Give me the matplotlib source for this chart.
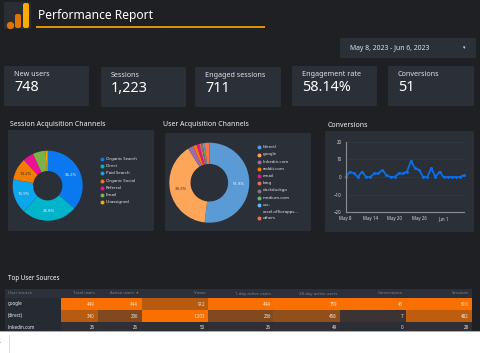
import matplotlib
matplotlib.use("Agg")
import matplotlib.pyplot as plt
import matplotlib.colors as mcolors
from matplotlib.patches import FancyBboxPatch, Rectangle

plt.rcParams["font.family"] = ["Noto Sans", "DejaVu Sans"]

W, H = 480, 353
BG = "#1f2023"
CARD = "#2b2f38"
TEXT = "#e4e5e7"
ORANGE = "#f97000"

card_labels = ["New users", "Sessions", "Engaged sessions", "Engagement rate", "Conversions"]
card_values = ["748", "1,223", "711", "58.14%", "51"]

session_channels = ["Organic Search", "Direct", "Paid Search", "Organic Social", "Referral", "Email", "Unassigned"]
session_shares = [36.2, 25.8, 15.9, 10.2, 5.0, 5.9, 1.0]
session_labels = ["36.2%", "25.8%", "15.9%", "10.2%", "", "", ""]
session_colors = ["#0a79f0", "#00b4cc", "#0ba6ee", "#f47c00", "#ec1294", "#7cb24a", "#f9a800"]

user_sources = ["(direct)", "google", "linkedin.com", "reddit.com", "email", "bing", "duckduckgo",
                "medium.com", "cac-\nexcel.officeapps...", "others"]
user_shares = [51.8, 39.3, 2.2, 1.4, 1.2, 0.7, 0.6, 0.5, 0.3, 1.9]
user_labels = ["51.8%", "39.3%", "", "", "", "", "", "", "", ""]
user_colors = ["#5b9bd5", "#fda65a", "#9c6bb0", "#f57c00", "#ec1294", "#e0705a", "#7a7a7a",
               "#66bb6a", "#64b5f6", "#ff7043"]

conversions = [0, 3, 2, 0, 3, 0, 0, 2, 2, 4, 1, 0, 0, 2, 2, 3, 9, 5, 4, 0, 0, 5, 0, 3, 0, 0, 0, 0, 0, 1]
conv_tick_idx = [0, 6, 12, 18, 24]
conv_tick_labels = ["May 8", "May 14", "May 20", "May 26", "Jun 1"]
conv_yticks = [-20, -10, 0, 10, 20]

table_columns = ["Total users", "Active users  ▾", "Views", "1-day active users",
                 "28-day active users", "Conversions", "Sessions"]
table_sources = ["google", "(direct)", "linkedin.com"]
table_google = [449, 444, 912, 444, 759, 43, 610]
table_direct = [340, 236, 1203, 236, 458, 7, 482]
table_linkedin = [26, 26, 50, 26, 49, 0, 28]

fig = plt.figure(figsize=(W / 100, H / 100), dpi=100, facecolor=BG)
bg = fig.add_axes([0, 0, 1, 1])
bg.set_xlim(0, W)
bg.set_ylim(H, 0)
bg.axis("off")


def inset(x0, y0, x1, y1):
    # axes placed in pixel coordinates measured from the top left
    return fig.add_axes([x0 / W, 1 - y1 / H, (x1 - x0) / W, (y1 - y0) / H], facecolor="none")


def panel(x0, y0, x1, y1, color=CARD):
    bg.add_patch(FancyBboxPatch((x0 + 1, y0 + 1), x1 - x0 - 2, y1 - y0 - 2,
                                boxstyle="round,pad=1,rounding_size=1.5", fc=color, ec="none"))


# header
panel(4, 2, 31, 29, "#2a2d33")
bg.add_patch(FancyBboxPatch((16, 15), 4, 12, boxstyle="round,pad=1,rounding_size=2", fc="#e37400", ec="none"))
bg.add_patch(FancyBboxPatch((24, 4), 4, 23, boxstyle="round,pad=1,rounding_size=2", fc="#f9ab00", ec="none"))
bg.scatter([10], [25], s=28, c="#e37400", linewidths=0)
bg.text(38, 15.5, "Performance Report", color="white", fontsize=8.7, fontweight="bold", va="center")
bg.plot([36, 265], [26.5, 26.5], color="#f0a000", lw=1.3, solid_capstyle="butt")

# date picker
panel(340, 38, 476, 58)
bg.text(350, 48, "May 8, 2023 - Jun 6, 2023", color="#e0e2e6", fontsize=4.9, va="center")
bg.text(464, 48, "▾", color="#e0e2e6", fontsize=3.5, va="center", ha="center")

# score cards
card_x = [(4, 89, 66), (101, 186, 67), (195, 281, 67), (292, 377, 66), (388, 474, 66)]
for (x0, x1, y0), label, value in zip(card_x, card_labels, card_values):
    panel(x0, y0, x1, y0 + 40)
    bg.text(x0 + 10, y0 + 8.5, label, color="#e0e1e4", fontsize=5.2, va="center")
    bg.text(x0 + 10, y0 + 21.5, value, color="white", fontsize=10.4, va="center")

# section titles and chart panels
bg.text(10, 125, "Session Acquisition Channels", color="#f0f0f2", fontsize=5.0, va="center")
bg.text(163, 125, "User Acquisition Channels", color="#f0f0f2", fontsize=5.0, va="center")
bg.text(328, 125.5, "Conversions", color="#f0f0f2", fontsize=5.0, va="center")
panel(8, 130, 154, 231)
panel(165, 133, 311, 231)
panel(325, 131, 474, 232)


def donut(cx, cy, r, shares, colors, labels, hole, dist):
    ax = inset(cx - r, cy - r, cx + r, cy + r)
    wedges, texts = ax.pie(shares, colors=colors, startangle=90, counterclock=False, radius=1,
                           labels=labels, labeldistance=dist,
                           wedgeprops=dict(width=1 - hole, linewidth=0),
                           textprops=dict(fontsize=3.1, color="#f0f0f0", ha="center", va="center"))
    ax.set_xlim(-1, 1)
    ax.set_ylim(-1, 1)
    ax.set_aspect("equal")
    ax.axis("off")
    for t, c in zip(texts, colors):
        if c in ("#f47c00", "#fda65a"):
            t.set_color("#333333")


donut(47.7, 185.7, 35, session_shares, session_colors, session_labels, 0.42, 0.72)
donut(209.3, 182.7, 40, user_shares, user_colors, user_labels, 0.47, 0.735)

# legends
for i, (name, color) in enumerate(zip(session_channels, session_colors)):
    y = 159 + i * 7.2
    bg.scatter([102], [y], s=8, c=color, linewidths=0)
    bg.text(105.5, y, name, color="#e8e9ec", fontsize=3.1, va="center")

y_legend = [147.3, 154.5, 161.7, 169, 176.2, 183.3, 190.5, 197.8, 205, 218]
for name, color, y in zip(user_sources, user_colors, y_legend):
    bg.scatter([259], [y], s=8, c=color, linewidths=0)
    if "\n" in name:
        first, second = name.split("\n")
        bg.text(263, y - 0.5, first, color="#e8e9ec", fontsize=3.1, va="center")
        bg.text(263, y + 6.5, second, color="#e8e9ec", fontsize=3.1, va="center")
    else:
        bg.text(263, y, name, color="#e8e9ec", fontsize=3.1, va="center")

# conversions line chart
ax = inset(345.7, 141.7, 464, 212.3)
ax.plot(range(len(conversions)), conversions, color="#0a6fe8", lw=1.3, marker="o", ms=2.1,
        mew=0, clip_on=False)
ax.set_xlim(0, len(conversions) - 1)
ax.set_ylim(-20, 20)
ax.set_yticks(conv_yticks)
ax.set_xticks(conv_tick_idx)
ax.set_xticklabels(conv_tick_labels)
ax.tick_params(colors="#d8dade", labelsize=3.2, length=0, pad=3)
ax.grid(axis="y", color="#383c45", lw=0.4)
ax.set_axisbelow(True)
for side in ("top", "right"):
    ax.spines[side].set_visible(False)
for side in ("left", "bottom"):
    ax.spines[side].set_color("#8a8d93")
    ax.spines[side].set_linewidth(0.8)

# table
bg.text(8, 278.5, "Top User Sources", color="white", fontsize=4.5, fontweight="bold", va="center")
col_edges = [61, 98, 142, 208, 273, 340, 406, 472]
col_right = [95, 138, 205, 271, 337, 403, 469]
row_edges = [298, 310, 322, 331]
table_rows = [table_google, table_direct, table_linkedin]
col_max = [max(col) for col in zip(*table_rows)]
low = mcolors.to_rgb("#2c2e36")
high = mcolors.to_rgb(ORANGE)

bg.add_patch(Rectangle((5, 289), 467, 42, fc="#262a33", ec="none"))
bg.add_patch(Rectangle((5, 289), 467, 9, fc="#2b303b", ec="none"))
bg.text(8, 293.5, "User source", color="#7f848e", fontsize=3.1, va="center")
for name, right in zip(table_columns, col_right):
    bg.text(right, 293.5, name, color="#7f848e", fontsize=3.1, va="center", ha="right")

for i, (source, row) in enumerate(zip(table_sources, table_rows)):
    y0, y1 = row_edges[i], row_edges[i + 1]
    y_text = y0 + 6 if i < 2 else y0 + 5.5
    bg.text(8, y_text, source, color="#eeeff1", fontsize=3.3, va="center")
    for j, value in enumerate(row):
        share = (value / col_max[j]) ** 1.4
        color = [a + (b - a) * share for a, b in zip(low, high)]
        bg.add_patch(Rectangle((col_edges[j], y0 + 0.4), col_edges[j + 1] - col_edges[j], y1 - y0 - 0.8,
                               fc=color, ec="none"))
        bg.text(col_right[j], y_text, f"{value:,}", color="#f5ece2", fontsize=3.2, va="center", ha="right")

# page below the dashboard
bg.add_patch(Rectangle((0, 331), W, 22, fc="white", ec="none", zorder=5))
bg.plot([0, W], [331, 331], color="#9a9a9a", lw=0.6, zorder=6)
bg.plot([8.5, 8.5], [335, 353], color="#dddddd", lw=0.6, zorder=6)
bg.text(0, 343, ".", color="#555555", fontsize=4, zorder=6)

fig.savefig("out.png", dpi=100, facecolor=BG)
plt.close("all")
